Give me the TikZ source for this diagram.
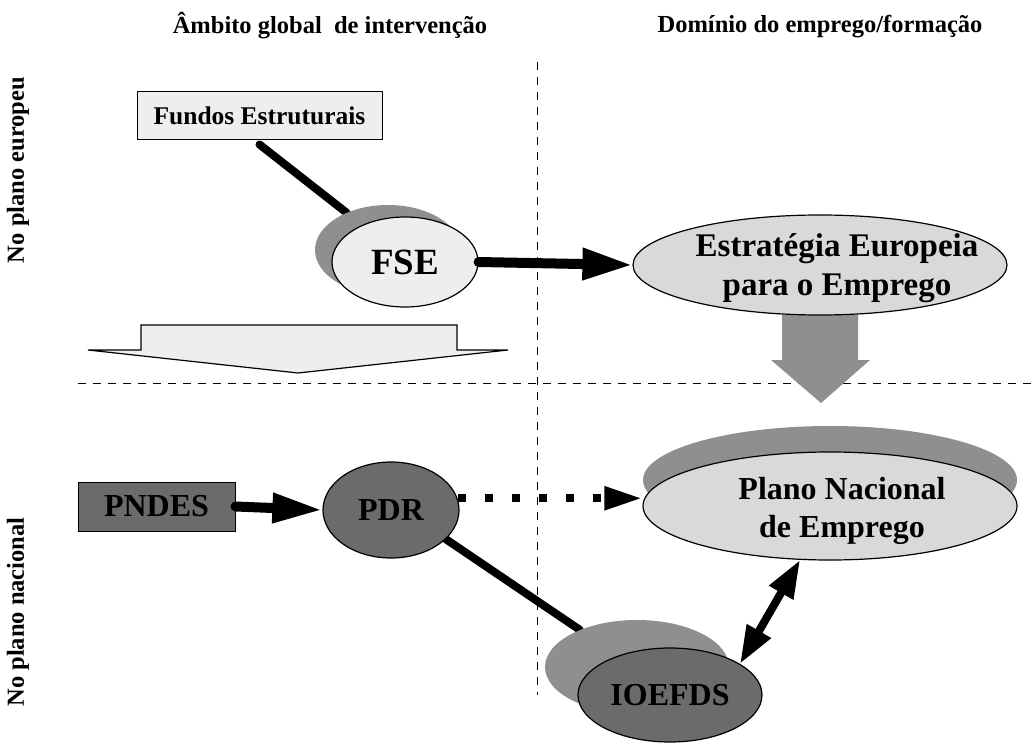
\documentclass[tikz,border=0pt]{standalone}
\usepackage{fontspec}
\setmainfont{Liberation Serif}
\usetikzlibrary{shapes.geometric,arrows.meta,calc}
\pgfdeclarelayer{background}
\pgfsetlayers{background,main}
\definecolor{lightf}{HTML}{EEEEEE}
\definecolor{midf}{HTML}{D9D9D9}
\definecolor{shad}{HTML}{8F8F8F}
\definecolor{darkf}{HTML}{6B6B6B}
\begin{document}
\begin{tikzpicture}[x=1pt,y=-1pt,
  ell/.style={ellipse, draw=black, line width=1.2pt, inner sep=0pt},
  shadowell/.style={ellipse, fill=shad, inner sep=0pt},
  txt/.style={font=\bfseries\fontsize{32}{38}\selectfont, align=center, inner sep=0pt},
  hdr/.style={font=\bfseries\fontsize{24.5}{28}\selectfont, inner sep=0pt},
  guide/.style={dash pattern=on 8pt off 7pt, line width=1pt},
  thickline/.style={line width=8pt, line cap=round},
]
\useasboundingbox (0,0) rectangle (1035,743);

% headers and side labels
\node[hdr] (h1) at (330,26) {Âmbito global\ \ de intervenção};
\node[hdr] (h2) at (820,27) {Domínio do emprego/formação};
\node[hdr, rotate=90] (l1) at (18,170) {No plano europeu};
\node[hdr, rotate=90] (l2) at (18,612) {No plano nacional};

% hollow down arrow (left)
\draw[fill=lightf, line width=1.2pt] (141,325) -- (457,325) -- (457,350) -- (508,350) -- (298,373) -- (88,350) -- (141,350) -- cycle;
% gray down arrow (right)
\fill[shad] (782,315) -- (858,315) -- (858,360) -- (870,360) -- (821,403) -- (771,360) -- (782,360) -- cycle;

% nodes
\node[draw, fill=lightf, line width=1pt, minimum width=245pt, minimum height=48pt, inner sep=0pt,
      font=\bfseries\fontsize{25.5}{30}\selectfont] (fundos) at (259.5,116) {Fundos Estruturais};

\node[shadowell, minimum width=146pt, minimum height=90pt] (fseS) at (388,250) {};
\node[ell, fill=lightf, minimum width=146pt, minimum height=90pt,
      font=\bfseries\fontsize{37}{40}\selectfont] (fse) at (405,262) {FSE};

\node[ell, fill=midf, minimum width=374pt, minimum height=100pt] (est) at (820,265) {};
\node[txt, font=\bfseries\fontsize{33}{39}\selectfont] (estT) at (837,268) {Estratégia Europeia\\para o Emprego};

\node[shadowell, minimum width=374pt, minimum height=108pt] (plS) at (830,480) {};
\node[ell, fill=midf, minimum width=374pt, minimum height=108pt] (pl) at (830,506) {};
\node[txt] (plT) at (842,511) {Plano Nacional\\de Emprego};

\node[draw, fill=darkf, line width=1pt, minimum width=157pt, minimum height=49pt, inner sep=0pt,
      font=\bfseries\fontsize{32}{38}\selectfont] (pndes) at (156.5,506.5) {PNDES};

\node[ell, fill=darkf, minimum width=136pt, minimum height=96pt,
      font=\bfseries\fontsize{32}{38}\selectfont] (pdr) at (391,510) {PDR};

\node[shadowell, minimum width=184pt, minimum height=94pt] (ioeS) at (637,667) {};
\node[ell, fill=darkf, minimum width=184pt, minimum height=94pt,
      font=\bfseries\fontsize{32}{38}\selectfont] (ioe) at (670,695) {IOEFDS};

% guides and plain connectors underneath
\coordinate (vt) at (537,62);
\coordinate (vb) at (537,695);
\coordinate (hl) at (78,383);
\coordinate (hr) at (1035,383);
\begin{pgfonlayer}{background}
  \draw[guide] (vt) -- (vb);
  \draw[guide] (hl) -- (hr);
  \draw[thickline] ([yshift=-4pt]fundos.south) -- (fseS.138);
  \draw[thickline] (pdr.-28) -- (ioeS.147);
\end{pgfonlayer}

% arrows
\draw[line width=10pt, line cap=round, -{Triangle[length=50pt,width=30pt]}] (fse.east) -- (est.west);
\draw[line width=10pt, line cap=round, -{Triangle[length=50pt,width=28pt]}] (pndes.east) -- (pdr.west);
\draw[line width=8pt, dash pattern=on 8pt off 19pt, -{Triangle[length=38pt,width=22pt]}] (pdr.10) -- (pdr.10 -| pl.west);
\draw[line width=8pt, {Triangle[length=38pt,width=26pt]}-{Triangle[length=38pt,width=26pt]}] (ioe.24) -- (pl.241);
\end{tikzpicture}
\end{document}
